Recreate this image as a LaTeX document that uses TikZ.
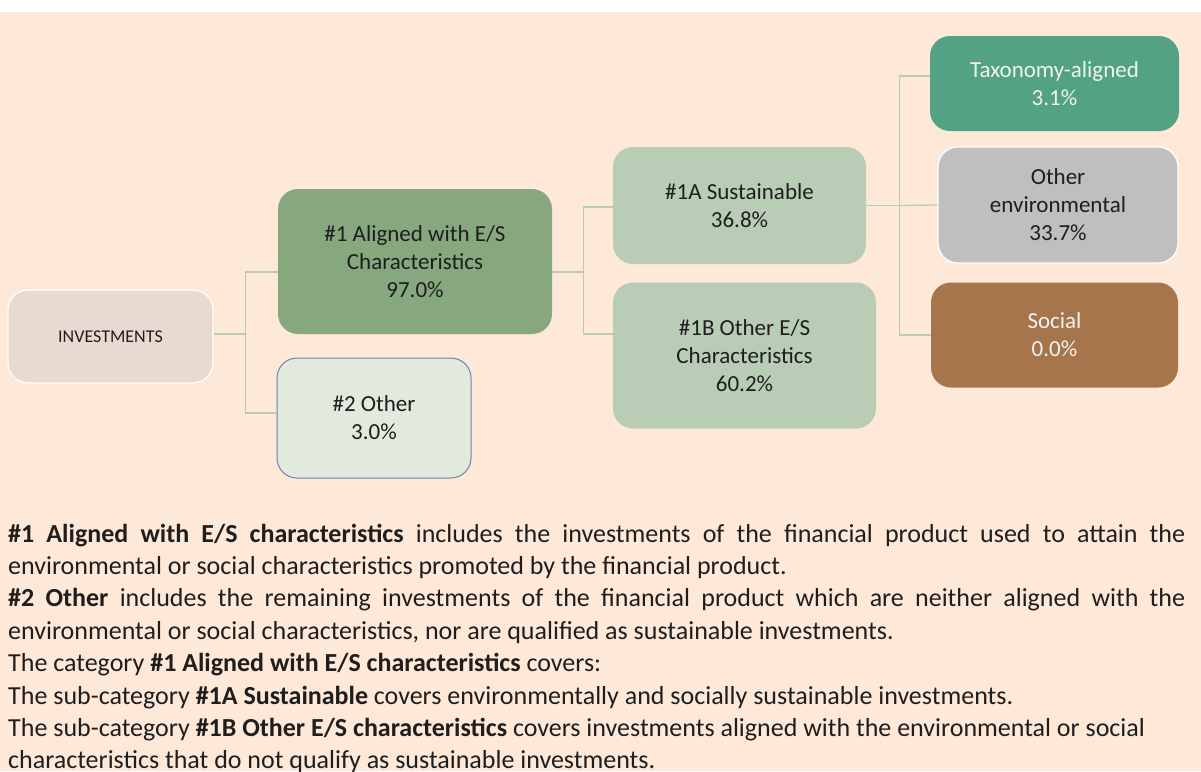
\documentclass[tikz,border=0pt]{standalone}
\usepackage{fontspec}
\setmainfont{Carlito}
\usetikzlibrary{positioning,calc}
\setlength{\parindent}{0pt}

\definecolor{peach}{HTML}{FEE8D8}
\definecolor{invfill}{HTML}{E8DAD0}
\definecolor{alfill}{HTML}{87A77F}
\definecolor{otfill}{HTML}{E1EADD}
\definecolor{otdraw}{HTML}{6E81B0}
\definecolor{subfill}{HTML}{B9CDB6}
\definecolor{taxfill}{HTML}{52A283}
\definecolor{envfill}{HTML}{BFBFBF}
\definecolor{socfill}{HTML}{A6754C}
\definecolor{linkgreen}{HTML}{B7CDB3}
\definecolor{txtdark}{HTML}{1E1E1E}
\definecolor{txtlight}{HTML}{F2F2F2}

\begin{document}
\begin{tikzpicture}[x=1pt, y=-1pt,
  box/.style={rounded corners=20pt, align=center, inner sep=0pt, text=txtdark,
    font=\fontsize{23}{28}\selectfont},
  link/.style={draw=linkgreen, line width=1.3pt}]
  \useasboundingbox (0,0) rectangle (1201,771);
  \fill[white] (0,0) rectangle (1201,12);
  \fill[peach] (0,12) rectangle (1201,771);

  % boxes
  \node[box, fill=invfill, draw=white, line width=1.2pt, minimum width=205pt, minimum height=93pt,
    font=\fontsize{18}{22}\selectfont] (inv) at (110.5,336.5) {INVESTMENTS};
  \node[box, fill=alfill, minimum width=274pt, minimum height=145pt] (al) at (415,261.5)
    {\#1 Aligned with E/S\\Characteristics\\97.0\%};
  \node[box, fill=otfill, draw=otdraw, line width=1pt, minimum width=194pt, minimum height=120pt] (ot) at (374,418)
    {\#2 Other\\3.0\%};
  \node[box, fill=subfill, minimum width=253pt, minimum height=117pt] (sus) at (739.5,205.5)
    {\#1A Sustainable\\36.8\%};
  \node[box, fill=subfill, minimum width=263pt, minimum height=146pt] (oes) at (744.5,355.5)
    {\#1B Other E/S\\Characteristics\\60.2\%};
  \node[box, fill=taxfill, text=txtlight, minimum width=249pt, minimum height=95pt] (tax) at (1054.5,83.5)
    {Taxonomy-aligned\\3.1\%};
  \node[box, fill=envfill, draw=white, line width=1.2pt, minimum width=240pt, minimum height=116pt] (env) at (1058,205)
    {Other\\environmental\\33.7\%};
  \node[box, fill=socfill, text=txtlight, minimum width=247pt, minimum height=105pt] (soc) at (1054.5,335)
    {Social\\0.0\%};

  % connectors
  \draw[link] ([yshift=2.5pt]inv.east) -- ++(32,0) coordinate (s0);
  \draw[link] ([yshift=-10.5pt]al.west) -| (s0) |- ([yshift=5pt]ot.west);
  \draw[link] ([yshift=-10.5pt]al.east) -- ++(31,0) coordinate (s1);
  \draw[link] ([yshift=-1.5pt]sus.west) -| (s1) |- ([yshift=21.5pt]oes.west);
  \draw[link] (sus.east) -- ++(33,0) coordinate (s2);
  \draw[link] ([yshift=7.5pt]tax.west) -| (s2) |- (soc.west);
  \draw[link] (s2) -- (env.west);

  % legend text
  \node[anchor=north west, inner sep=0pt, text width=1177pt, align=justify, text=txtdark,
    font=\fontsize{26}{32.4}\selectfont] (desc) at (8,519.3)
    {\strut\textbf{\#1 Aligned with E/S characteristics} includes the investments of the financial product used to attain the\linebreak
     environmental or social characteristics promoted by the financial product.\par
     \textbf{\#2 Other} includes the remaining investments of the financial product which are neither aligned with the\linebreak
     environmental or social characteristics, nor are qualified as sustainable investments.\par
     The category \textbf{\#1 Aligned with E/S characteristics} covers:\par
     The sub-category \textbf{\#1A Sustainable} covers environmentally and socially sustainable investments.\par
     The sub-category \textbf{\#1B Other E/S characteristics} covers investments aligned with the environmental or social\newline
     characteristics that do not qualify as sustainable investments.};
\end{tikzpicture}
\end{document}
